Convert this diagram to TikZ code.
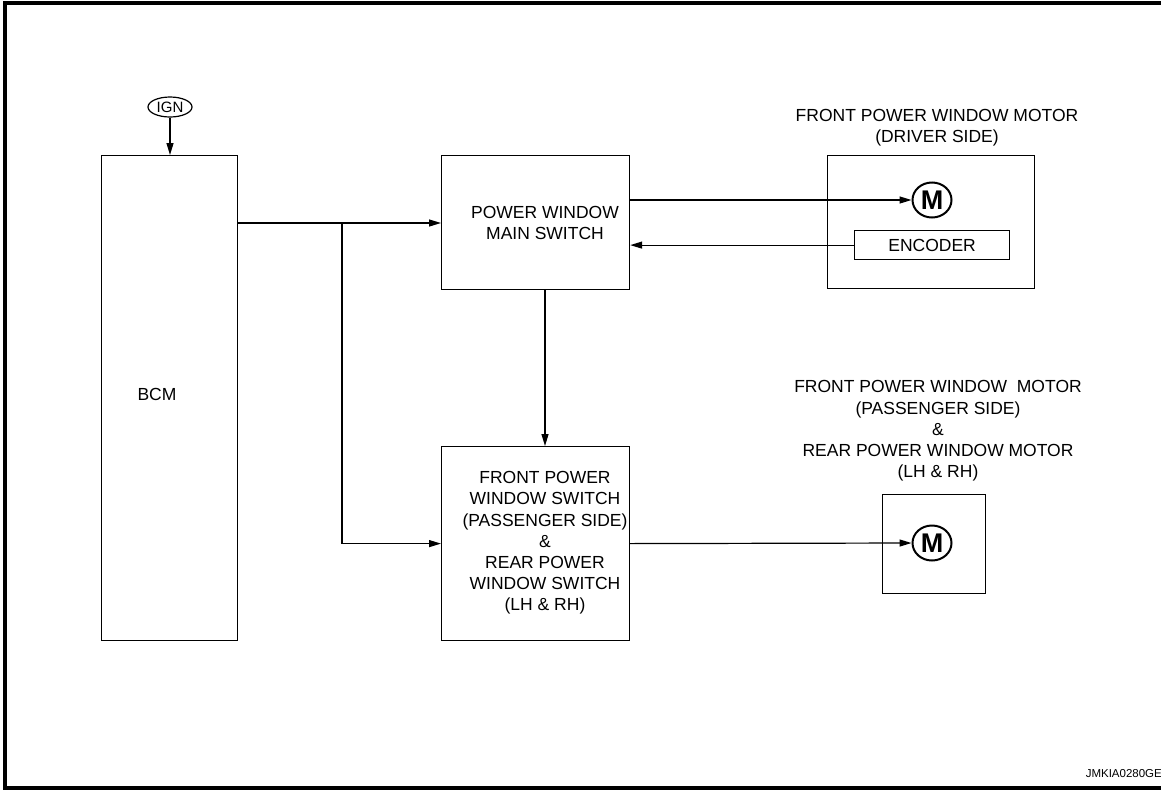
\documentclass[tikz,border=0pt]{standalone}
\usepackage{fontspec}
\setmainfont{Liberation Sans}
\usetikzlibrary{positioning, calc, arrows.meta, shapes.geometric}

\begin{document}
\begin{tikzpicture}[x=1pt, y=-1pt, >={Triangle[length=12pt,width=7pt]},
    box/.style={draw, line width=1.2pt, rectangle, inner sep=0pt, anchor=north west},
    lbl/.style={align=center, inner sep=0pt, font=\fontsize{17.5}{21.2}\selectfont},
    motor/.style={draw, ellipse, line width=2pt, minimum width=39pt, minimum height=35pt,
      inner sep=0pt, font=\fontsize{27}{27}\selectfont\bfseries},
    wire/.style={line width=1.2pt}]
    \useasboundingbox (0,0) rectangle (1161,790);

    % Frame
    \draw[line width=3.3pt] (1161,3) -- (5,3) -- (5,788) -- (1161,788);

    % Blocks
    \node[box, minimum width=136pt, minimum height=485pt] (bcm) at (101,155) {};
    \node[box, minimum width=188pt, minimum height=134pt] (main) at (441,155) {};
    \node[box, minimum width=188pt, minimum height=194pt] (sub) at (441,446) {};
    \node[box, minimum width=207pt, minimum height=133pt] (drv) at (827,155) {};
    \node[box, minimum width=103pt, minimum height=99pt] (pas) at (882,494) {};
    \node[box, lbl, minimum width=155pt, minimum height=29pt] (enc) at (854,230) {ENCODER};

    % Power supply
    \node[draw, ellipse, line width=1.2pt, minimum width=44pt, minimum height=20pt, inner sep=0pt,
      font=\fontsize{15}{15}\selectfont] (ign) at (170,107) {IGN};

    % Motors
    \node[motor] (mdrv) at (932,200) {M};
    \node[motor] (mpas) at (932,543) {M};

    % Texts
    \node[lbl] (bcmtxt) at (157,394) {BCM};
    \node[lbl] (maintxt) at (545,223) {POWER WINDOW\\MAIN SWITCH};
    \node[lbl] (subtxt) at (545,543) {FRONT POWER\\WINDOW SWITCH\\(PASSENGER SIDE)\\\&\\REAR POWER\\WINDOW SWITCH\\(LH \& RH)};
    \node[lbl] (drvtxt) at (937,128) {FRONT POWER WINDOW MOTOR\\(DRIVER SIDE)};
    \node[lbl] (pastxt) at (938,431) {FRONT POWER WINDOW\ \ MOTOR\\(PASSENGER SIDE)\\\&\\REAR POWER WINDOW MOTOR\\(LH \& RH)};
    \node[inner sep=0pt, anchor=east, font=\fontsize{11.5}{12}\selectfont] (code) at (1162,774) {JMKIA0280GE};

    % Connectors
    \coordinate (jn) at (342,223);
    \coordinate (vx) at (545,0);
    \draw[wire, ->] (ign.south) -- (ign.south |- bcm.north);
    \draw[wire, ->] (bcm.east |- jn) -- (main.west |- jn);
    \draw[wire, ->] (jn) |- (sub.west);
    \draw[wire, ->] (main.east |- mdrv) -- (mdrv.west);
    \draw[wire, ->] (enc.west) -- (enc.west -| main.east);
    \draw[wire, ->] (main.south -| vx) -- (sub.north -| vx);
    \draw[wire, ->] (sub.east) -- (mpas.west);
\end{tikzpicture}
\end{document}
